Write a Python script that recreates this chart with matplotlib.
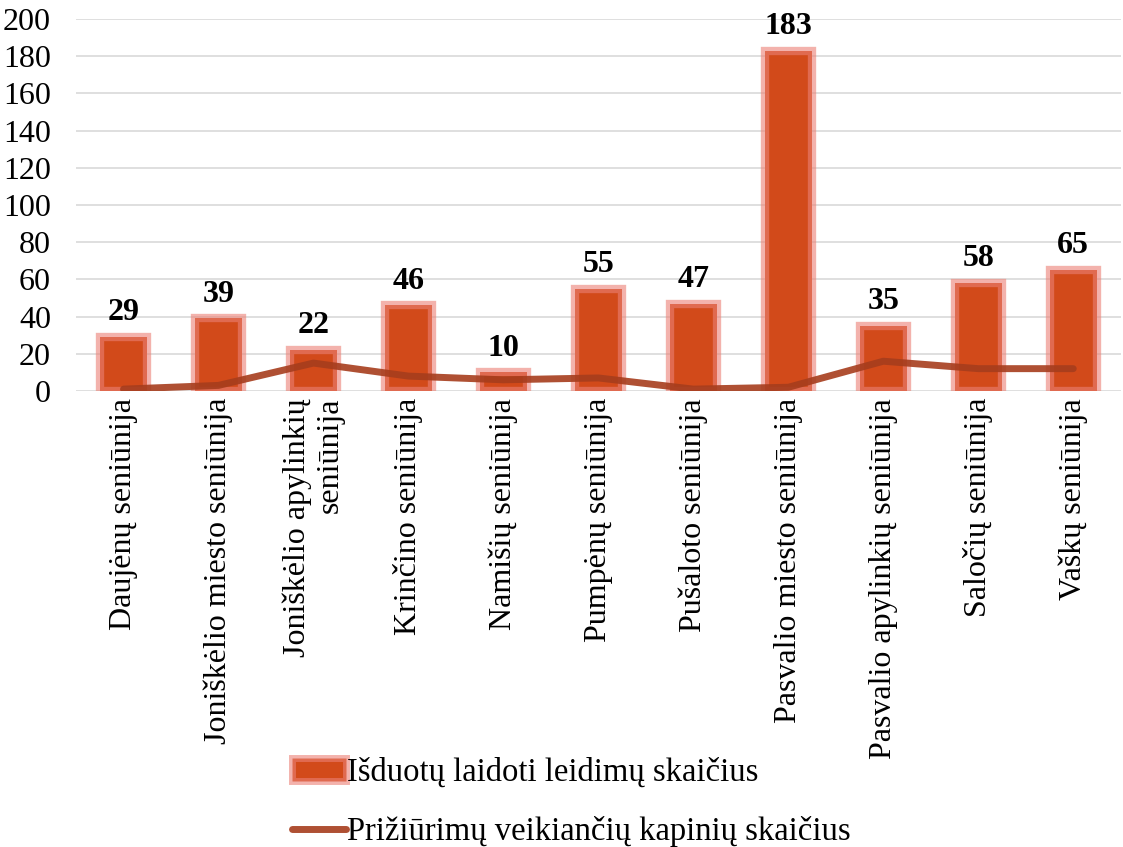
import matplotlib
matplotlib.use("Agg")
import matplotlib.pyplot as plt
from matplotlib.patches import Patch
from matplotlib.lines import Line2D

categories = ["Daujėnų seniūnija", "Joniškėlio miesto seniūnija",
              "Joniškėlio apylinkių\nseniūnija", "Krinčino seniūnija",
              "Namišių seniūnija", "Pumpėnų seniūnija", "Pušaloto seniūnija",
              "Pasvalio miesto seniūnija", "Pasvalio apylinkių seniūnija",
              "Saločių seniūnija", "Vaškų seniūnija"]
permits = [29, 39, 22, 46, 10, 55, 47, 183, 35, 58, 65]
cemeteries = [1, 3, 15, 8, 6, 7, 1, 2, 16, 12, 12]
series_names = ["Išduotų laidoti leidimų skaičius",
                "Prižiūrimų veikiančių kapinių skaičius"]
y_ticks = [0, 20, 40, 60, 80, 100, 120, 140, 160, 180, 200]

plt.rcParams['font.family'] = ['Liberation Serif', 'DejaVu Serif']
FS = 23
LFS = 23.5

fig = plt.figure(figsize=(11.23, 8.47), dpi=100)
ax = fig.add_axes([0.0677, 0.5384, 0.9303, 0.4392])

bar_face = '#D24A1A'
bar_edge = (0.92, 0.50, 0.46, 0.6)
line_col = '#A63D1D'

x = list(range(len(categories)))
ax.bar(x, permits, width=0.5, color=bar_face, edgecolor=bar_edge,
       linewidth=6, zorder=2)
ax.plot(x, cemeteries, color=line_col, alpha=0.9, linewidth=5,
        solid_capstyle='round', solid_joinstyle='round', zorder=3)

for xi, v in zip(x, permits):
    ax.annotate(str(v), (xi, v), xytext=(0, 7), textcoords='offset points',
                ha='center', va='bottom', fontsize=FS, fontweight='bold')

ax.set_xlim(-0.5, len(categories) - 0.5)
ax.set_ylim(0, 200)
ax.set_yticks(y_ticks)
ax.set_yticklabels([str(t) for t in y_ticks], fontsize=FS)
ax.set_xticks(x)
ax.set_xticklabels(categories, rotation=90, fontsize=FS, ha='center',
                   va='top', multialignment='right')
ax.tick_params(axis='both', length=0)
ax.tick_params(axis='y', pad=18)
ax.tick_params(axis='x', pad=5)
ax.grid(axis='y', color='#D9D9D9', linewidth=1.2, zorder=0)
ax.set_axisbelow(True)
for s in ax.spines.values():
    s.set_visible(False)

handles = [Patch(facecolor=bar_face, edgecolor=bar_edge, linewidth=5),
           Line2D([0], [0], color=line_col, alpha=0.9, linewidth=5,
                  solid_capstyle='round')]
fig.legend(handles, series_names, loc='upper left',
           bbox_to_anchor=(292 / 1123, 1 - 757 / 847), frameon=False,
           fontsize=LFS, handlelength=1.65, handletextpad=0.05,
           labelspacing=0.88, borderpad=0, borderaxespad=0)

fig.savefig("out.png", dpi=100)
